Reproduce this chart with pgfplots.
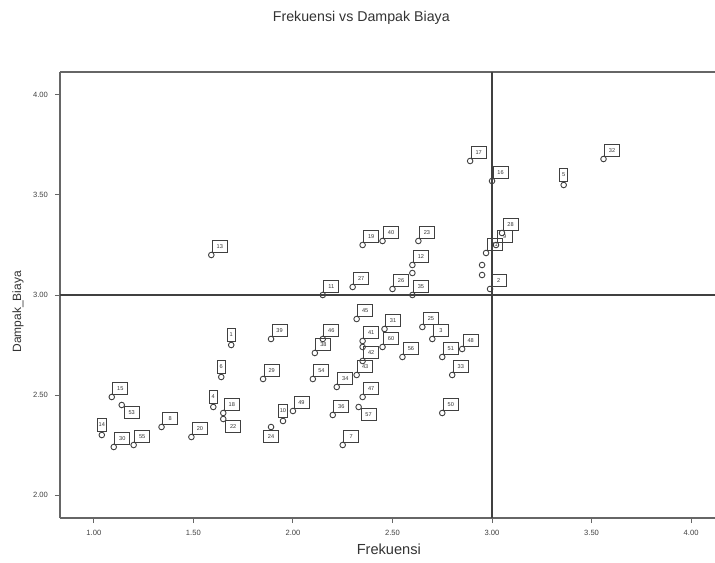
\documentclass[border=0pt]{standalone}
\usepackage{pgfplots}
\pgfplotsset{compat=1.18}
\usepackage{pgfplotstable}
\usepackage{fontspec}
\setmainfont{Liberation Sans}

% cases whose label box sits up and to the right of the point
\pgfplotstableread{
x y lab
1.59 3.20 13
2.89 3.67 17
3.00 3.57 16
3.56 3.68 32
3.05 3.31 28
3.02 3.25 9
2.97 3.21 21
2.99 3.03 2
2.35 3.25 19
2.45 3.27 40
2.63 3.27 23
2.60 3.15 12
2.30 3.04 27
2.15 3.00 11
2.60 3.00 35
2.50 3.03 26
2.32 2.88 45
2.46 2.83 31
2.35 2.77 41
2.45 2.74 60
2.55 2.69 56
2.65 2.84 25
2.70 2.78 3
2.75 2.69 51
2.85 2.73 48
2.80 2.60 33
2.75 2.41 50
2.15 2.78 46
2.11 2.71 38
2.35 2.67 42
2.10 2.58 54
2.32 2.60 43
2.22 2.54 34
2.35 2.49 47
2.00 2.42 49
2.20 2.40 36
2.25 2.25 7
1.89 2.78 39
1.85 2.58 29
1.65 2.41 18
1.09 2.49 15
1.10 2.24 30
1.20 2.25 55
1.34 2.34 8
1.49 2.29 20
}\dataUR

% cases whose label box sits straight above the point
\pgfplotstableread{
x y lab
3.36 3.55 5
1.69 2.75 1
1.64 2.59 6
1.60 2.44 4
1.04 2.30 14
1.95 2.37 10
}\dataUp

% cases whose label box sits below and to the right of the point
\pgfplotstableread{
x y lab
1.14 2.45 53
1.65 2.38 22
2.33 2.44 57
}\dataDR

% cases whose label box sits straight below the point
\pgfplotstableread{
x y lab
1.89 2.34 24
}\dataDn

% cases without a visible label
\pgfplotstableread{
x y
2.60 3.11
2.35 2.74
2.95 3.15
2.95 3.10
}\dataNo

\begin{document}
\begin{tikzpicture}
\begin{axis}[
  scale only axis, width=327.5pt, height=223pt,
  xmin=0.83, xmax=4.12, ymin=1.885, ymax=4.115,
  axis x line*=box, axis y line*=left,
  xtick pos=left, ytick pos=left,
  tick align=outside, major tick length=2.5pt,
  xtick={1,1.5,2,2.5,3,3.5,4}, ytick={2,2.5,3,3.5,4},
  every tick/.style={black!60, line width=0.5pt},
  axis line style={black!60, line width=0.7pt},
  /pgf/number format/.cd, fixed, fixed zerofill, precision=2, assume math mode=true,
  /pgfplots/.cd,
  tick label style={font=\fontsize{3.8}{4}\selectfont, text=black!75},
  title={Frekuensi vs Dampak Biaya},
  title style={at={(axis description cs:0.46,1.094)}, anchor=center,
    font=\fontsize{7.1}{8}\selectfont, text=black!80},
  xlabel={Frekuensi},
  xlabel style={at={(axis description cs:0.502,-0.069)}, anchor=center,
    font=\fontsize{7.3}{8}\selectfont, text=black!80},
  ylabel={Dampak\_Biaya},
  ylabel style={at={(axis description cs:-0.064,0.462)}, anchor=center,
    font=\fontsize{6}{7}\selectfont, text=black!80},
  clip=false,
  pt/.style={only marks, mark=o, mark size=1.4pt,
    mark options={draw=black!75, line width=0.45pt}},
  lbl/.style={pt, nodes near coords, point meta=explicit symbolic,
    every node near coord/.append style={draw=black!75, line width=0.45pt,
      font=\fontsize{2.8}{3}\selectfont, text=black!80, inner sep=0.6pt}},
]
% reference lines at 3.00 on both scales
\draw[black!75, line width=0.8pt] (axis cs:3,1.885) -- (axis cs:3,4.115);
\draw[black!75, line width=0.8pt] (axis cs:0.83,3) -- (axis cs:4.12,3);

\addplot[lbl, every node near coord/.append style={anchor=south west,
  minimum width=7.5pt, minimum height=6pt, xshift=0.3pt, yshift=1.2pt}]
  table[meta=lab] {\dataUR};
\addplot[lbl, every node near coord/.append style={anchor=south,
  minimum width=4pt, minimum height=6.5pt, yshift=1.6pt}]
  table[meta=lab] {\dataUp};
\addplot[lbl, every node near coord/.append style={anchor=north west,
  minimum width=7.5pt, minimum height=6pt, xshift=1pt, yshift=-0.5pt}]
  table[meta=lab] {\dataDR};
\addplot[lbl, every node near coord/.append style={anchor=north,
  minimum width=7.5pt, minimum height=6pt, yshift=-1.4pt}]
  table[meta=lab] {\dataDn};
\addplot[pt] table {\dataNo};

\coordinate (SW) at (rel axis cs:0,0);
\coordinate (NE) at (rel axis cs:1,1);
\end{axis}
\pgfresetboundingbox
\path[use as bounding box] ([shift={(-30pt,-22pt)}]SW) rectangle ([shift={(0pt,36pt)}]NE);
\end{tikzpicture}
\end{document}
